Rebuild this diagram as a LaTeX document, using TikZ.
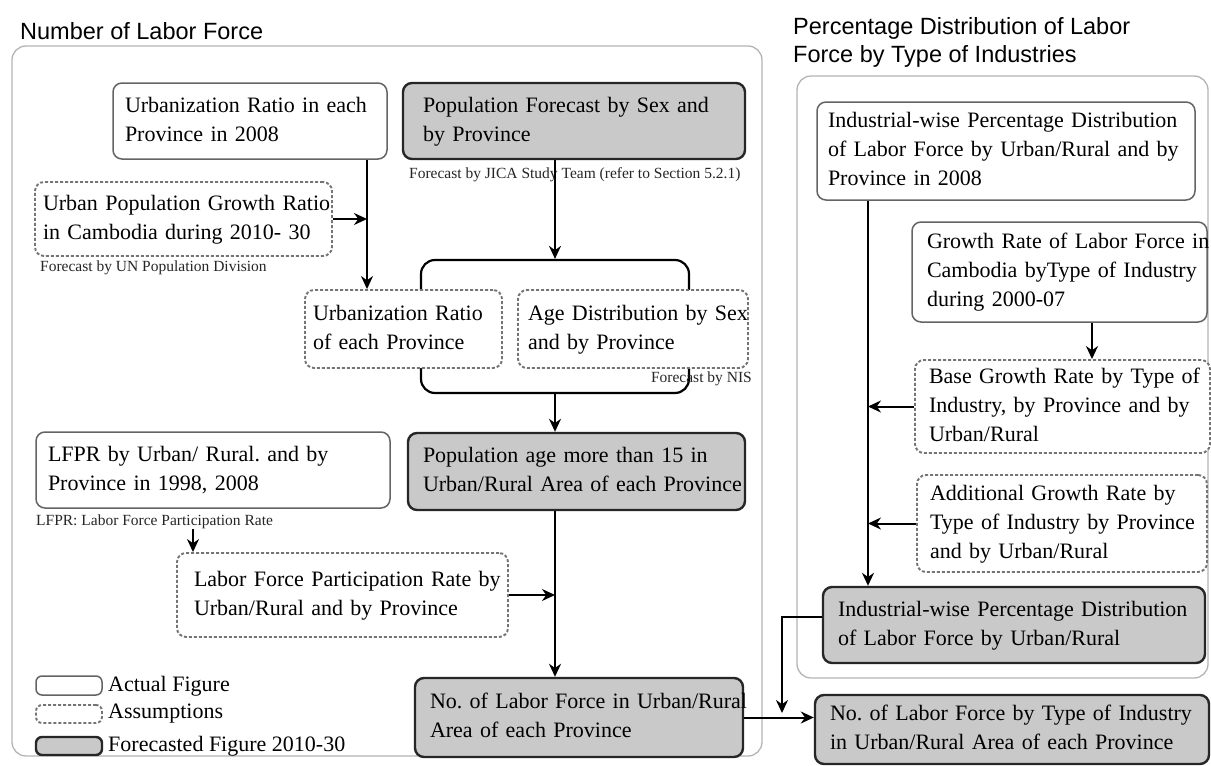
\documentclass[tikz,border=0pt]{standalone}
\usepackage{fontspec}
\setmainfont{Liberation Serif}
\newfontfamily\headfont{Liberation Sans}
\usetikzlibrary{arrows.meta}
\frenchspacing
\definecolor{fcfill}{RGB}{201,201,201}
\definecolor{edgegray}{RGB}{100,100,100}
\definecolor{framegray}{RGB}{180,180,180}
% multi-line box text that never re-wraps
\newcommand\boxtext[1]{\begin{tabular}{@{}l@{}}#1\end{tabular}}

\begin{document}
\begin{tikzpicture}[x=1pt,y=-1pt,
  base/.style={rounded corners=9pt, align=left, inner ysep=0pt,
    font=\fontsize{22}{29}\selectfont},
  actual/.style={base, draw=edgegray, line width=1.5pt, fill=white},
  assume/.style={base, draw=edgegray!90, line width=1.9pt,
    dash pattern=on 3pt off 2pt, fill=white},
  forecast/.style={base, draw=black!85, line width=2.4pt, fill=fcfill},
  note/.style={font=\fontsize{15.5}{18}\selectfont, inner sep=0pt, text=black!85},
  legtext/.style={font=\fontsize{22}{29}\selectfont, inner sep=0pt},
  head/.style={font=\headfont\fontsize{23.5}{28}\selectfont, align=left, inner sep=0pt},
  arr/.style={line width=2pt, -{Stealth[length=13pt,width=12pt]}},
  panel/.style={draw=framegray, line width=1.3pt, rounded corners=14pt},
  group/.style={draw=black, line width=2.2pt, rounded corners=14pt,
    minimum width=268pt, minimum height=133pt, inner sep=0pt}
]
\useasboundingbox[fill=white] (0,0) rectangle (1211,766);

% panel frames and headings
\draw[panel] (12,46) rectangle (762,756);
\draw[panel] (797,76) rectangle (1208,678);
\node[head, anchor=base west] (head1) at (20,39) {Number of Labor Force};
\node[head, anchor=north west] (head2) at (793,17)
  {Percentage Distribution of Labor\\Force by Type of Industries};

% ---- left panel: number of labor force ----
\node[actual, minimum width=274pt, minimum height=76pt, inner xsep=12pt, text width=250pt]
  (urb08) at (250,121) {\boxtext{Urbanization Ratio in each\\Province in 2008}};
\node[forecast, minimum width=342pt, minimum height=76pt, inner xsep=20pt, text width=302pt]
  (popf) at (574,121) {\boxtext{Population Forecast by Sex and\\by Province}};
\node[note, anchor=west] (jicanote) at (409,175)
  {Forecast by JICA Study Team (refer to Section 5.2.1)};
\node[assume, minimum width=297pt, minimum height=74pt, inner xsep=8pt, text width=281pt]
  (upg) at (183.5,219) {\boxtext{Urban Population Growth Ratio\\in Cambodia during 2010- 30}};
\node[note, anchor=west] (unnote) at (40,268) {Forecast by UN Population Division};

% grouping bracket behind the two assumption boxes
\node[group] (grp) at (555,326.5) {};
\node[assume, minimum width=197pt, minimum height=78pt, inner xsep=8pt, text width=181pt]
  (urat) at (403.5,329) {\boxtext{Urbanization Ratio\\of each Province}};
\node[assume, minimum width=230pt, minimum height=78pt, inner xsep=10pt, text width=210pt]
  (aged) at (633,329) {\boxtext{Age Distribution by Sex\\and by Province}};
\node[note, anchor=east] (nisnote) at (752,379) {Forecast by NIS};

\node[forecast, minimum width=337pt, minimum height=77pt, inner xsep=15pt, text width=307pt]
  (pop15) at (576.5,471.5) {\boxtext{Population age more than 15 in\\Urban/Rural Area of each Province}};
\node[actual, minimum width=354pt, minimum height=76pt, inner xsep=12pt, text width=330pt]
  (lfpr) at (213,470) {\boxtext{LFPR by Urban/ Rural. and by\\Province in 1998, 2008}};
\node[note, anchor=west] (lfprnote) at (36,522) {LFPR: Labor Force Participation Rate};
\node[assume, minimum width=331pt, minimum height=84pt, inner xsep=17pt, text width=297pt]
  (lfpra) at (342.5,595) {\boxtext{Labor Force Participation Rate by\\Urban/Rural and by Province}};
\node[forecast, minimum width=328pt, minimum height=79pt, inner xsep=15pt, text width=298pt]
  (labf) at (579,717.5) {\boxtext{No. of Labor Force in Urban/Rural\\Area of each Province}};

% legend
\node[actual, minimum width=66pt, minimum height=19pt, rounded corners=6pt, inner sep=0pt]
  (leg1) at (69,685.5) {};
\node[assume, minimum width=66pt, minimum height=18pt, rounded corners=6pt, inner sep=0pt]
  (leg2) at (69,714) {};
\node[forecast, minimum width=66pt, minimum height=18pt, rounded corners=6pt, inner sep=0pt]
  (leg3) at (69,746) {};
\node[legtext, anchor=west] (leg1t) at (108,686) {Actual Figure};
\node[legtext, anchor=west] (leg2t) at (108,714) {Assumptions};
\node[legtext, anchor=west] (leg3t) at (108,746) {Forecasted Figure 2010-30};

% ---- right panel: distribution by type of industry ----
\node[actual, minimum width=378pt, minimum height=98pt, inner xsep=11pt, text width=356pt]
  (iw08) at (1006,151) {\boxtext{Industrial-wise Percentage Distribution\\of Labor Force by Urban/Rural and by\\Province in 2008}};
\node[actual, minimum width=295pt, minimum height=100pt, inner xsep=15pt, text width=265pt]
  (gr) at (1059.5,272) {\boxtext{Growth Rate of Labor Force in\\Cambodia byType of Industry\\during 2000-07}};
\node[assume, minimum width=295pt, minimum height=93pt, inner xsep=14pt, text width=267pt]
  (bgr) at (1062.5,406.5) {\boxtext{Base Growth Rate by Type of\\Industry, by Province and by\\Urban/Rural}};
\node[assume, minimum width=290pt, minimum height=97pt, inner xsep=13pt, text width=264pt]
  (agr) at (1062,523.5) {\boxtext{Additional Growth Rate by\\Type of Industry by Province\\and by Urban/Rural}};
\node[forecast, minimum width=382pt, minimum height=76pt, inner xsep=15pt, text width=352pt]
  (iwd) at (1014,625) {\boxtext{Industrial-wise Percentage Distribution\\of Labor Force by Urban/Rural}};
\node[forecast, minimum width=394pt, minimum height=69pt, inner xsep=15pt, text width=364pt]
  (fin) at (1012,729.5) {\boxtext{No. of Labor Force by Type of Industry\\in Urban/Rural Area of each Province}};

% connector guide positions
\coordinate (ux) at (367,220);
\coordinate (sp) at (555,0);
\coordinate (lfx) at (193,0);
\coordinate (rx) at (868,0);
\coordinate (gx) at (1092,0);
\coordinate (drop) at (782,713);

% connectors
\draw[arr] (urb08.south -| ux) -- (urat.north -| ux);
\draw[arr] (upg.east) -- (upg.east -| ux);
\draw[arr] (popf.south -| sp) -- (grp.north);
\draw[arr] (grp.south) -- (pop15.north -| sp);
\draw[arr] (pop15.south -| sp) -- (labf.north -| sp);
\draw[arr] (lfpra.east) -- (lfpra.east -| sp);
\draw[arr] (lfprnote.south -| lfx) -- (lfpra.north -| lfx);
\draw[arr] (labf.east) -- (labf.east -| fin.west);
\draw[arr] (iw08.south -| rx) -- (iwd.north -| rx);
\draw[arr] (gr.south -| gx) -- (bgr.north -| gx);
\draw[arr] (bgr.west) -- (bgr.west -| rx);
\draw[arr] (agr.west) -- (agr.west -| rx);
\draw[arr] ([yshift=8pt]iwd.west) -| (drop);
\end{tikzpicture}
\end{document}
